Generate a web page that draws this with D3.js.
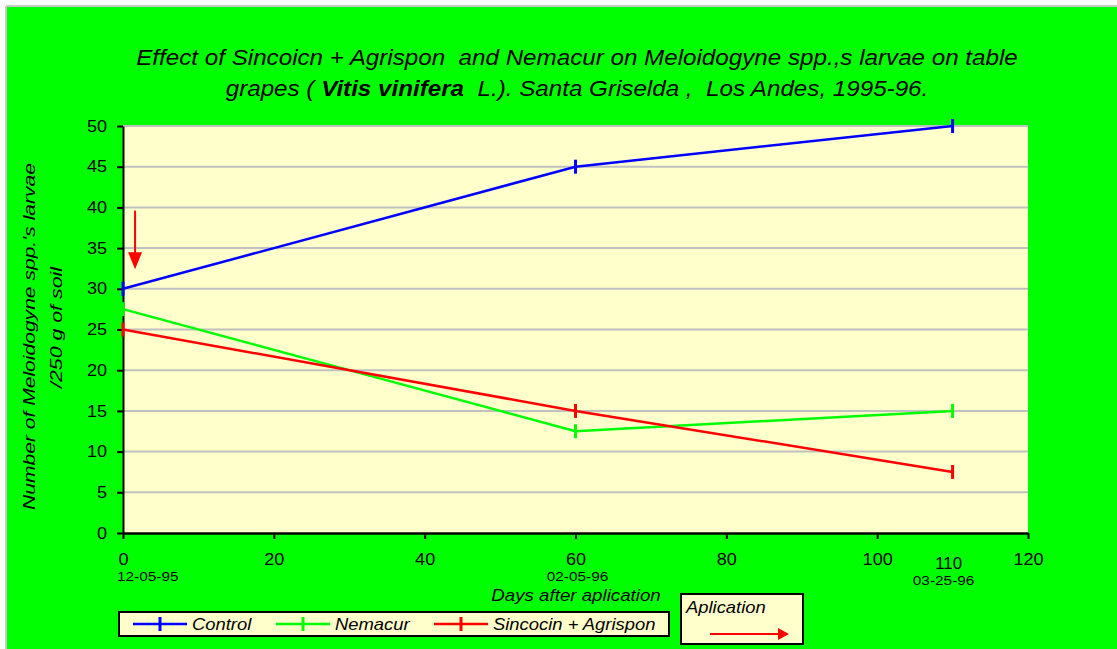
<!DOCTYPE html>
<html>
<head>
<meta charset="utf-8">
<script src="https://cdn.jsdelivr.net/npm/d3@7"></script>
<style>
  html, body { margin: 0; padding: 0; background: #ffffff; }
  svg { display: block; font-family: "Liberation Sans", Arial, sans-serif; }
  text { white-space: pre; }
</style>
</head>
<body>
<svg id="chart" width="1117" height="649"></svg>
<script>
// Days after application at which larvae were counted
const days = [0, 60, 110];
const dateLabels = ["12-05-95", "02-05-96", "03-25-96"];

// Larvae per 250 g of soil, by treatment
const control = [30, 45, 50];
const nemacur = [27.5, 12.5, 15];
const sincocin = [25, 15, 7.5];

const seriesNames = ["Control", "Nemacur", "Sincocin + Agrispon"];
const seriesColors = ["#0000ff", "#00ff00", "#ff0000"];

const xTicks = [0, 20, 40, 60, 80, 100, 120];
const yTicks = [0, 5, 10, 15, 20, 25, 30, 35, 40, 45, 50];

const FONT = "Liberation Sans, Arial, sans-serif";
const STRETCH = 1.13; // text in this chart is set slightly wide

const svg = d3.select("#chart");

// horizontally widened text placed at (x, y)
function wideText(parent, x, y, str, opts = {}) {
  const g = parent.append("g")
    .attr("transform", `translate(${x},${y}) scale(${opts.stretch || STRETCH},1)`);
  return g.append("text")
    .attr("x", 0).attr("y", 0)
    .attr("text-anchor", opts.anchor || "start")
    .attr("font-size", opts.size || 16)
    .attr("font-style", opts.italic ? "italic" : "normal")
    .attr("font-family", FONT)
    .attr("fill", "#000")
    .text(str);
}

// outer frame
svg.append("rect").attr("x", 6).attr("y", 6).attr("width", 1111).attr("height", 643)
  .attr("fill", "#00ff00");
svg.append("line").attr("x1", 6).attr("x2", 1117).attr("y1", 6).attr("y2", 6)
  .attr("stroke", "#c8c8c8").attr("stroke-width", 2);
svg.append("line").attr("x1", 6).attr("x2", 6).attr("y1", 6).attr("y2", 649)
  .attr("stroke", "#c8c8c8").attr("stroke-width", 2);

const plot = { left: 123, right: 1028, top: 126, bottom: 533 };

const x = d3.scaleLinear().domain([0, 120]).range([plot.left, plot.right]);
const y = d3.scaleLinear().domain([0, 50]).range([plot.bottom, plot.top]);

// plot background
svg.append("rect")
  .attr("x", plot.left).attr("y", plot.top)
  .attr("width", plot.right - plot.left).attr("height", plot.bottom - plot.top)
  .attr("fill", "#ffffcc");

// horizontal gridlines
svg.append("g").selectAll("line").data(yTicks.filter(d => d > 0)).join("line")
  .attr("x1", plot.left).attr("x2", plot.right)
  .attr("y1", d => y(d)).attr("y2", d => y(d))
  .attr("stroke", "#c0c0c0").attr("stroke-width", 2);

// y axis
const yAxis = svg.append("g")
  .attr("transform", `translate(${plot.left},0)`)
  .call(d3.axisLeft(y).tickValues(yTicks).tickSize(6).tickSizeOuter(0).tickPadding(8));
yAxis.select(".domain").attr("stroke", "#000").attr("stroke-width", 2);
yAxis.selectAll(".tick line").attr("stroke", "#000").attr("stroke-width", 2);
yAxis.selectAll(".tick text").attr("font-size", 16).attr("fill", "#000")
  .attr("font-family", FONT)
  .attr("transform", `scale(${STRETCH},1)`);

// x axis
const xAxis = svg.append("g")
  .attr("transform", `translate(0,${plot.bottom})`)
  .call(d3.axisBottom(x).tickValues(xTicks).tickSize(6).tickSizeOuter(0).tickPadding(14.5));
xAxis.select(".domain").attr("stroke", "#000").attr("stroke-width", 2.5);
xAxis.selectAll(".tick line").attr("stroke", "#000").attr("stroke-width", 2);
xAxis.selectAll(".tick text").attr("font-size", 16).attr("fill", "#000")
  .attr("font-family", FONT)
  .attr("transform", `scale(${STRETCH},1)`);

// application arrow at day 0
const arrowX = x(1.6);
svg.append("line")
  .attr("x1", arrowX).attr("x2", arrowX)
  .attr("y1", y(39.6)).attr("y2", y(33.5))
  .attr("stroke", "#ff0000").attr("stroke-width", 2);
svg.append("path")
  .attr("d", `M${arrowX - 7},${y(34.5)} L${arrowX + 7},${y(34.5)} L${arrowX},${y(32.4)} Z`)
  .attr("fill", "#ff0000");

// series lines with dash markers
const allSeries = [control, nemacur, sincocin];
const line = d3.line().x((d, i) => x(days[i])).y(d => y(d));
allSeries.forEach((vals, si) => {
  const g = svg.append("g");
  g.append("path").datum(vals)
    .attr("d", line)
    .attr("fill", "none")
    .attr("stroke", seriesColors[si])
    .attr("stroke-width", 2.5);
  g.selectAll("line").data(vals).join("line")
    .attr("x1", (d, i) => x(days[i])).attr("x2", (d, i) => x(days[i]))
    .attr("y1", d => y(d) - 7).attr("y2", d => y(d) + 7)
    .attr("stroke", seriesColors[si]).attr("stroke-width", 3);
});

// sampling dates below the axis
const dateX = [x(0) - 6, x(60) + 2, x(110) - 9];
const dateY = [581, 581, 585];
const dateAnchor = ["start", "middle", "middle"];
dateLabels.forEach((d, i) => {
  wideText(svg, dateX[i], dateY[i], d, { size: 13.5, anchor: dateAnchor[i], stretch: 1.14 });
});
wideText(svg, x(110) - 4, 569, String(days[2]), { size: 16, anchor: "middle", stretch: 1.05 });

// axis titles
wideText(svg, 576, 601, "Days after aplication", { size: 16, anchor: "middle", italic: true, stretch: 1.17 });

const yTitle = svg.append("g").attr("transform", "rotate(-90)");
yTitle.append("text")
  .attr("x", -336.5).attr("y", 35)
  .attr("text-anchor", "middle").attr("font-size", 17).attr("font-style", "italic")
  .attr("textLength", 347).attr("lengthAdjust", "spacingAndGlyphs")
  .text("Number of Meloidogyne spp.'s larvae");
yTitle.append("text")
  .attr("x", -327.5).attr("y", 62)
  .attr("text-anchor", "middle").attr("font-size", 17).attr("font-style", "italic")
  .attr("textLength", 121).attr("lengthAdjust", "spacingAndGlyphs")
  .text("/250 g of soil");

// chart title
const titleG = svg.append("g").attr("transform", "translate(577,0) scale(1.1,1)");
const title = titleG.append("text")
  .attr("text-anchor", "middle").attr("font-size", 22).attr("font-style", "italic");
title.append("tspan").attr("x", 0).attr("y", 65)
  .text("Effect of Sincoicn + Agrispon  and Nemacur on Meloidogyne spp.,s larvae on table");
const t2 = title.append("tspan").attr("x", 0).attr("y", 96);
t2.append("tspan").text("grapes ( ");
t2.append("tspan").attr("font-weight", "bold").text("Vitis vinifera");
t2.append("tspan").text("  L.). Santa Griselda ,  Los Andes, 1995-96.");

// legend
const legend = svg.append("g");
legend.append("rect")
  .attr("x", 119).attr("y", 612).attr("width", 550).attr("height", 24)
  .attr("fill", "#ffffcc").attr("stroke", "#000").attr("stroke-width", 2);
const legendX = [133, 276, 434];
seriesNames.forEach((name, i) => {
  const lx = legendX[i];
  legend.append("line")
    .attr("x1", lx).attr("x2", lx + 54).attr("y1", 624).attr("y2", 624)
    .attr("stroke", seriesColors[i]).attr("stroke-width", 2.5);
  legend.append("line")
    .attr("x1", lx + 27).attr("x2", lx + 27).attr("y1", 617).attr("y2", 631)
    .attr("stroke", seriesColors[i]).attr("stroke-width", 3);
  wideText(legend, lx + 59, 630, name, { size: 16, italic: true, stretch: 1.15 });
});

// application key
const key = svg.append("g");
key.append("rect")
  .attr("x", 681).attr("y", 594).attr("width", 122).attr("height", 50)
  .attr("fill", "#ffffcc").attr("stroke", "#000").attr("stroke-width", 2);
wideText(key, 686, 613, "Aplication", { size: 16, italic: true, stretch: 1.15 });
key.append("line")
  .attr("x1", 710).attr("x2", 780).attr("y1", 634).attr("y2", 634)
  .attr("stroke", "#ff0000").attr("stroke-width", 2);
key.append("path")
  .attr("d", "M778,628 L789,634 L778,640 Z")
  .attr("fill", "#ff0000");
</script>
</body>
</html>
